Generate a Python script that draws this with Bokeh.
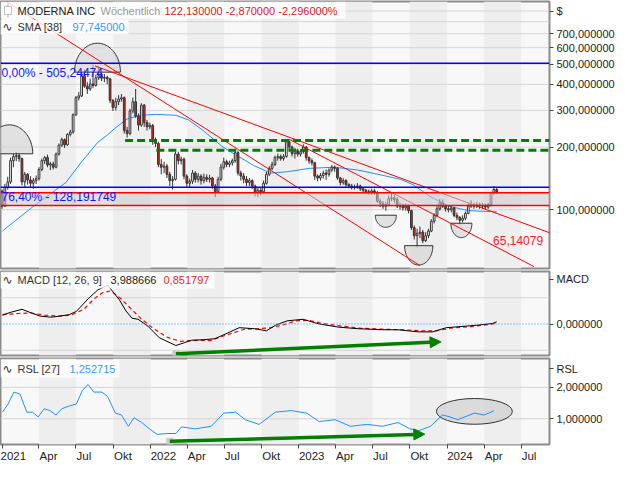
import math
import pandas as pd
from bokeh.plotting import figure
from bokeh.layouts import column
from bokeh.models import (Range1d, FixedTicker, CustomJSTickFormatter, Span, BoxAnnotation,
                          Label, Arrow, NormalHead, ColumnDataSource)
from bokeh.embed import file_html
from bokeh.resources import INLINE

FONT = "Liberation Sans"

# ---------------- weekly candles ----------------
first_week = "2020-12-28"
first_open = 123.0
close = [104, 128, 136, 172, 180, 182, 176, 136, 148, 139, 134, 138, 141, 156, 172, 178, 164, 166, 160, 185,
         204, 217, 205, 230, 236, 286, 345, 352, 440, 392, 380, 402, 395, 430, 440, 428, 432, 425, 335, 310,
         330, 340, 345, 240, 232, 298, 330, 282, 255, 318, 262, 250, 254, 215, 208, 165, 160, 162, 148, 138,
         140, 185, 172, 175, 145, 134, 137, 150, 140, 145, 138, 143, 140, 142, 130, 122, 140, 160, 170, 165,
         168, 172, 188, 150, 145, 140, 135, 138, 130, 121, 124, 122, 134, 148, 158, 165, 178, 180, 176, 180,
         212, 200, 186, 192, 185, 190, 200, 178, 172, 168, 145, 142, 146, 150, 148, 155, 160, 158, 142, 135,
         138, 132, 130, 128, 129, 130, 126, 124, 122, 121, 123, 121, 110, 107, 104, 106, 113, 114, 112, 104,
         104, 102, 104, 99, 82, 75, 77, 78, 71, 75, 79, 88, 94, 101, 108, 104, 101, 100, 102, 94,
         92, 89, 91, 96, 104, 106, 104, 106, 105, 104, 103, 106, 120, 125, 122.13]
high = [125, 133, 144, 178, 186, 189, 187, 178, 152, 150, 145, 142, 146, 160, 176, 181, 184, 170, 170, 188,
        208, 222, 220, 233, 242, 290, 352, 368, 460, 470, 410, 425, 497, 445, 488, 455, 448, 440, 430, 340,
        345, 355, 360, 350, 250, 305, 345, 380, 290, 325, 322, 270, 262, 258, 222, 212, 175, 170, 166, 152,
        145, 190, 190, 180, 178, 148, 141, 155, 153, 150, 148, 149, 148, 147, 144, 133, 144, 166, 178, 174,
        172, 176, 196, 192, 154, 150, 145, 142, 140, 132, 128, 128, 138, 152, 162, 170, 182, 186, 184, 185,
        218, 215, 203, 197, 196, 195, 206, 202, 180, 176, 170, 148, 150, 154, 156, 158, 164, 163, 160, 144,
        142, 140, 134, 133, 132, 134, 132, 128, 126, 125, 126, 126, 123, 113, 110, 109, 117, 120, 118, 115,
        108, 107, 107, 106, 100, 84, 81, 83, 80, 78, 81, 90, 96, 104, 113, 112, 106, 104, 105, 103,
        97, 93, 94, 98, 107, 111, 108, 109, 108, 108, 107, 108, 122, 130, 127]
low = [101, 103, 125, 133, 160, 171, 170, 131, 128, 132, 127, 126, 133, 138, 153, 166, 160, 155, 156, 158,
       182, 200, 198, 203, 225, 232, 282, 335, 348, 385, 360, 372, 385, 390, 420, 415, 410, 400, 325, 298,
       300, 318, 330, 232, 222, 228, 290, 276, 240, 250, 250, 240, 243, 205, 200, 160, 148, 150, 142, 130,
       125, 138, 165, 165, 140, 128, 128, 133, 135, 135, 132, 134, 136, 135, 126, 115, 120, 137, 156, 160,
       160, 163, 168, 146, 138, 134, 130, 130, 126, 116, 115, 117, 120, 132, 145, 155, 162, 172, 172, 172,
       178, 195, 180, 176, 180, 180, 186, 172, 166, 163, 139, 137, 138, 141, 139, 144, 152, 152, 139, 131,
       132, 129, 127, 125, 125, 126, 123, 120, 119, 118, 118, 118, 108, 103, 101, 99, 104, 110, 108, 102,
       100, 99, 99, 96, 80, 72, 66, 73, 69, 70, 73, 78, 86, 92, 99, 102, 98, 97, 97, 92,
       89, 85, 87, 89, 95, 102, 101, 102, 101, 101, 100, 101, 104, 118, 119]

# ---------------- indicator lines ----------------
sma_dates = ["2021-01-01", "2021-03-16", "2021-06-06", "2021-07-14", "2021-08-24", "2021-09-17",
             "2021-10-04", "2021-11-04", "2021-12-05", "2022-01-15", "2022-03-04", "2022-04-04",
             "2022-05-08", "2022-06-25", "2022-07-26", "2022-09-12", "2022-10-23", "2022-12-01",
             "2023-01-27", "2023-03-30", "2023-05-27", "2023-07-21", "2023-09-08", "2023-10-09",
             "2023-11-19", "2024-01-05", "2024-02-22", "2024-05-02"]
sma_vals = [79, 103, 135, 169, 211, 229, 245, 273, 284, 287, 284, 270, 242, 202, 185, 163, 150, 152,
            158, 160, 155, 147, 140, 132, 116, 104, 99, 97.7]

macd_dates = ["2021-01-01", "2021-01-20", "2021-02-18", "2021-03-10", "2021-04-04", "2021-05-01",
              "2021-05-22", "2021-06-15", "2021-07-02", "2021-07-31", "2021-08-24", "2021-09-17",
              "2021-10-16", "2021-11-01", "2021-11-16", "2021-12-01", "2021-12-25", "2022-01-22",
              "2022-03-04", "2022-04-12", "2022-05-10", "2022-06-08", "2022-07-10", "2022-08-07",
              "2022-09-14", "2022-10-13", "2022-11-05", "2022-12-03", "2023-01-11", "2023-02-20",
              "2023-04-09", "2023-05-27", "2023-07-26", "2023-09-02", "2023-10-23", "2023-11-26",
              "2023-12-30", "2024-02-18", "2024-03-18", "2024-04-21", "2024-05-02"]
macd_vals = [17, 22, 28, 22, 15, 13, 15, 18, 24, 48, 65, 74, 46, 25, 11, 9, -4, -26, -41, -31, -30, -28,
             -17, -7, -9, -13, -2, 6, 9, 0, -6, -9, -11, -11, -15, -15, -7, -4, -2, 1, 4]
signal_dates = ["2021-01-01", "2021-02-10", "2021-03-10", "2021-04-15", "2021-05-20", "2021-06-20",
                "2021-07-20", "2021-08-15", "2021-09-05", "2021-09-25", "2021-10-20", "2021-11-15",
                "2021-12-10", "2022-01-05", "2022-02-10", "2022-03-15", "2022-04-20", "2022-05-30",
                "2022-07-10", "2022-08-20", "2022-09-20", "2022-10-25", "2022-11-25", "2022-12-25",
                "2023-01-25", "2023-02-28", "2023-04-15", "2023-06-01", "2023-08-01", "2023-09-15",
                "2023-10-30", "2023-12-05", "2024-01-10", "2024-02-25", "2024-04-01", "2024-05-02"]
signal_vals = [18, 20, 21, 17, 15, 17, 28, 48, 60, 63, 48, 28, 9, -7, -25, -33, -31, -31, -20, -10, -9,
               -7, -1, 6, 7, 1, -4, -8, -10, -11, -13, -13, -8, -5, -2, 0.85]

rsl_dates = ["2021-01-01", "2021-01-15", "2021-01-29", "2021-02-13", "2021-03-02", "2021-03-16",
             "2021-03-30", "2021-04-14", "2021-04-28", "2021-05-13", "2021-05-27", "2021-06-15",
             "2021-07-02", "2021-07-17", "2021-07-31", "2021-08-14", "2021-09-03", "2021-09-17",
             "2021-10-06", "2021-10-21", "2021-11-07", "2021-11-21", "2021-12-10", "2021-12-29",
             "2022-01-17", "2022-02-10", "2022-03-04", "2022-03-18", "2022-04-21", "2022-05-30",
             "2022-06-30", "2022-07-29", "2022-08-22", "2022-09-25", "2022-11-04", "2022-12-13",
             "2023-01-20", "2023-02-20", "2023-03-31", "2023-05-08", "2023-06-18", "2023-07-26",
             "2023-09-02", "2023-10-01", "2023-10-23", "2023-11-21", "2023-12-20", "2024-01-08",
             "2024-01-27", "2024-03-08", "2024-04-01", "2024-04-25"]
rsl_vals = [1.21, 1.47, 1.85, 1.79, 1.21, 1.21, 1.06, 1.32, 1.26, 1.12, 1.32, 1.41, 1.47, 1.91, 2.09,
            1.85, 1.85, 1.71, 1.18, 1.12, 0.76, 1.03, 0.88, 0.68, 0.5, 0.53, 0.53, 0.74, 0.68, 0.76,
            1.18, 1.21, 0.97, 0.82, 1.21, 1.26, 1.18, 0.91, 0.97, 0.76, 0.82, 0.76, 0.88, 0.68, 0.62,
            0.76, 1.12, 1.06, 0.97, 1.18, 1.12, 1.25]

# ---------------- axes / annotations ----------------
quarter_ticks = ["2021-01-01", "2021-04-01", "2021-07-01", "2021-10-01", "2022-01-01", "2022-04-01",
                 "2022-07-01", "2022-10-01", "2023-01-01", "2023-04-01", "2023-07-01", "2023-10-01",
                 "2024-01-01", "2024-04-01", "2024-07-01"]
quarter_labels = ["2021", "Apr", "Jul", "Okt", "2022", "Apr", "Jul", "Okt", "2023", "Apr", "Jul", "Okt",
                  "2024", "Apr", "Jul"]
shade_starts = ["2021-04-01", "2021-10-01", "2022-04-01", "2022-10-01", "2023-04-01", "2023-10-01", "2024-04-01"]
shade_ends = ["2021-07-01", "2022-01-01", "2022-07-01", "2023-01-01", "2023-07-01", "2024-01-01", "2024-07-01"]
price_ticks = [100, 200, 300, 400, 500, 600, 700]
price_grid = [100, 200, 300, 400, 500, 600, 700, 800, 900]
unit_tick = {900: "$"}
macd_ticks = {0: "0,000000", 85: "MACD"}
rsl_ticks = {1: "1,000000", 2: "2,000000", 2.6: "RSL"}

fib_levels = [505.24474, 128.191749]
fib_texts = ["0,00% - 505,24474", "76,40% - 128,191749"]
zone_levels = [104.7, 120.8]
resist_levels = [214.8, 193.0]
resist_starts = ["2021-10-30", "2022-01-15"]
trend_start_d = ["2021-01-11", "2021-08-17", "2022-12-08"]
trend_start_p = [1000, 490, 217.8]
trend_end_d = ["2023-10-26", "2024-09-10", "2024-08-02"]
trend_end_p = [53.9, 77.4, 53.3]
dome_center = ["2021-01-18", "2021-08-23", "2023-08-03", "2023-10-23", "2024-02-05"]
dome_price = [185.6, 457.8, 94.1, 67.2, 86.1]
dome_rx_days = [57.7, 56.5, 26.0, 34.8, 26.0]
dome_ry_dec = [0.139, 0.139, 0.058, 0.093, 0.069]
dome_up = [True, True, False, False, False]


def ms(d):
    return pd.Timestamp(d).value / 1e6


DAY = 86400000.0
FW = 549
x_range = Range1d(ms("2020-12-27 05:00"), ms("2024-09-09"))
BG = "#f8f8f8"
SHADE = "#eeeeee"
GRID = "#d4d4d4"
fmt6 = CustomJSTickFormatter(code="return tick.toFixed(6).replace('.', ',');")


def base_fig(fh, yr, ylog=False, bottom=2, xaxis=False):
    p = figure(frame_width=FW, frame_height=fh, x_range=x_range, y_range=yr,
               x_axis_type="datetime", y_axis_type="log" if ylog else "linear",
               y_axis_location="right", x_axis_location="below" if xaxis else None,
               toolbar_location=None, output_backend="svg",
               min_border_left=0, min_border_right=75, min_border_top=1, min_border_bottom=bottom,
               background_fill_color=BG, border_fill_color="white",
               outline_line_color="#8c8c8c", outline_line_width=2)
    p.xgrid.visible = False
    p.ygrid.visible = False
    for s, e in zip(shade_starts, shade_ends):
        p.add_layout(BoxAnnotation(left=ms(s), right=ms(e), fill_color=SHADE, fill_alpha=1.0,
                                   line_alpha=0, level="underlay"))
    ax = p.yaxis[0]
    ax.formatter = fmt6
    ax.axis_line_color = None
    ax.major_tick_out = 4
    ax.major_tick_in = 0
    ax.major_tick_line_color = "#444444"
    ax.minor_tick_line_color = None
    ax.major_label_text_font = FONT
    ax.major_label_text_font_size = "11px"
    ax.major_label_text_color = "#222222"
    ax.major_label_standoff = 3
    return p


def header(p, fh, box_right, box_top, box_bottom, parts, yc):
    p.add_layout(BoxAnnotation(left=0, right=box_right, top=fh - box_top, bottom=fh - box_bottom,
                               left_units="screen", right_units="screen", top_units="screen",
                               bottom_units="screen", fill_color="white", fill_alpha=0.8, line_alpha=0))
    for x, txt, col, fnt, size in parts:
        p.add_layout(Label(x=x, y=fh - yc, x_units="screen", y_units="screen", text=txt, text_color=col,
                           text_font=fnt, text_font_size=size, text_baseline="middle"))


# ================= main price panel =================
MH = 267
p1 = base_fig(MH, Range1d(52.2, 1000), ylog=True)
p1.yaxis[0].ticker = FixedTicker(ticks=price_ticks + list(unit_tick))
p1.yaxis[0].major_label_overrides = unit_tick
for g in price_grid:
    p1.add_layout(Span(location=g, dimension="width", line_color=GRID, line_width=1, level="underlay"))

p1.add_layout(BoxAnnotation(bottom=zone_levels[0], top=zone_levels[1], fill_color="#cccccc",
                            fill_alpha=0.55, line_alpha=0))
for lv in zone_levels:
    p1.add_layout(Span(location=lv, dimension="width", line_color="#ff0000", line_width=1.5))
for lv in fib_levels:
    p1.add_layout(Span(location=lv, dimension="width", line_color="#0000ff", line_width=1.5))

p1.line([pd.Timestamp(d) for d in sma_dates], sma_vals, line_color="#1e90ff", line_width=1)

weeks = pd.date_range(first_week, periods=len(close), freq="7D") + pd.Timedelta(days=3)
opens = [first_open] + close[:-1]
src = ColumnDataSource(dict(
    x=weeks, o=opens, c=close, h=high, l=low,
    top=[max(a, b) for a, b in zip(opens, close)],
    bot=[min(a, b) for a, b in zip(opens, close)],
    col=["#ffffff" if c >= o else "#d42a20" for o, c in zip(opens, close)]))
p1.segment(x0="x", y0="h", x1="x", y1="l", source=src, line_color="#333333", line_width=1)
p1.vbar(x="x", top="top", bottom="bot", width=4.3 * DAY, source=src, fill_color="col",
        line_color="#333333", line_width=1)

# domes / cups
dxs, dys = [], []
for c, pr, rx, ry, up in zip(dome_center, dome_price, dome_rx_days, dome_ry_dec, dome_up):
    ts = [math.pi * k / 48 for k in range(49)]
    sg = 1 if up else -1
    dxs.append([ms(c) + rx * DAY * math.cos(t) for t in ts])
    dys.append([10 ** (math.log10(pr) + sg * ry * math.sin(t)) for t in ts])
p1.patches(dxs, dys, fill_color="#d2d2d2", fill_alpha=0.6, line_color="#333333", line_width=1)

# trend lines
p1.segment(x0=[ms(d) for d in trend_start_d], y0=trend_start_p, x1=[ms(d) for d in trend_end_d],
           y1=trend_end_p, line_color="#ff0000", line_width=1)
# green resistance lines
p1.segment(x0=[ms(d) for d in resist_starts], y0=resist_levels, x1=[x_range.end] * 2, y1=resist_levels,
           line_color="#008000", line_width=3, line_dash="8 4")

for lv, txt in zip(fib_levels, fib_texts):
    p1.add_layout(Label(x=x_range.start, y=lv, x_offset=1, y_offset=-3, text=txt, text_color="#1414ff",
                        text_font=FONT, text_font_size="12px", text_baseline="top"))
p1.add_layout(Label(x=ms("2024-04-23"), y=71.1, text="65,14079", text_color="#ff2020", text_font=FONT,
                    text_font_size="12px", text_baseline="middle"))

header(p1, MH, 345, 0, 17, [
    (17, "MODERNA INC", "#1a1a1a", FONT, "11px"),
    (100, "Wöchentlich", "#9a9a9a", FONT, "11px"),
    (164, "122,130000  -2,870000  -2,296000%", "#e8161b", FONT, "11px")], 9)
# candle icon
p1.add_layout(BoxAnnotation(left=7, right=8, top=MH - 2, bottom=MH - 16, left_units="screen",
                            right_units="screen", top_units="screen", bottom_units="screen",
                            fill_color="#333333", line_alpha=0))
p1.add_layout(BoxAnnotation(left=4, right=11, top=MH - 5, bottom=MH - 13, left_units="screen",
                            right_units="screen", top_units="screen", bottom_units="screen",
                            fill_color="white", fill_alpha=1, line_color="#333333", line_width=1))
header(p1, MH, 128, 18, 33, [
    (2, "∿", "#333333", "DejaVu Sans", "12px"),
    (17, "SMA  [38]", "#333333", FONT, "11px"),
    (72, "97,745000", "#3399ff", FONT, "11px")], 25)

# ================= MACD panel =================
DH = 84
p2 = base_fig(DH, Range1d(-60, 100))
p2.yaxis[0].ticker = FixedTicker(ticks=list(macd_ticks))
p2.yaxis[0].major_label_overrides = macd_ticks
for g in [50, -50]:
    p2.add_layout(Span(location=g, dimension="width", line_color=GRID, line_width=1, level="underlay"))
p2.add_layout(Span(location=0, dimension="width", line_color="#1e90ff", line_width=1, line_dash="1 2"))
p2.line([pd.Timestamp(d) for d in signal_dates], signal_vals, line_color="#ff0000", line_width=1.2,
        line_dash="4 3")
p2.line([pd.Timestamp(d) for d in macd_dates], macd_vals, line_color="#000000", line_width=1)
p2.scatter([ms("2022-03-04")], [-56.6], marker="square", size=6, color="#cccccc")
p2.add_layout(Arrow(end=NormalHead(size=11, fill_color="#008000", line_color="#008000"),
                    x_start=ms("2022-03-04"), y_start=-56.6, x_end=ms("2023-12-17"), y_end=-34,
                    line_color="#008000", line_width=3.5))
header(p2, DH, 214, 0, 17, [
    (2, "∿", "#333333", "DejaVu Sans", "12px"),
    (17, "MACD  [12, 26, 9]", "#333333", FONT, "11px"),
    (110, "3,988666", "#1a1a1a", FONT, "11px"),
    (163, "0,851797", "#ff2020", FONT, "11px")], 8.5)

# ================= RSL panel =================
RH = 86
p3 = base_fig(RH, Range1d(0.18, 2.92), bottom=18, xaxis=True)
p3.yaxis[0].ticker = FixedTicker(ticks=list(rsl_ticks))
p3.yaxis[0].major_label_overrides = rsl_ticks
for g in [1, 2]:
    p3.add_layout(Span(location=g, dimension="width", line_color=GRID, line_width=1, level="underlay"))
p3.ellipse(x=[ms("2024-03-08")], y=[1.235], width=[187 * DAY], height=[0.82], fill_color="#cfcfcf",
           fill_alpha=0.7, line_color="#333333", line_width=1)
p3.line([pd.Timestamp(d) for d in rsl_dates], rsl_vals, line_color="#1e90ff", line_width=1)
p3.scatter([ms("2022-02-17")], [0.282], marker="square", size=6, color="#cccccc")
p3.add_layout(Arrow(end=NormalHead(size=11, fill_color="#008000", line_color="#008000"),
                    x_start=ms("2022-02-17"), y_start=0.282, x_end=ms("2023-11-07"), y_end=0.51,
                    line_color="#008000", line_width=3.5))
header(p3, RH, 119, 1, 19, [
    (2, "∿", "#333333", "DejaVu Sans", "12px"),
    (17, "RSL  [27]", "#333333", FONT, "11px"),
    (69, "1,252715", "#3399ff", FONT, "11px")], 10.5)

# x axis: labels start at their tick (padding with no-break spaces, centred by Bokeh);
# the first one sits at the left edge, where Bokeh keeps it inside the canvas
pad = {"2021": 0, "2022": 8, "2023": 8, "2024": 8, "Apr": 6, "Jul": 5, "Okt": 6}
xa = p3.xaxis[0]
xa.ticker = FixedTicker(ticks=[ms(d) for d in quarter_ticks])
xa.major_label_overrides = {ms(d): ("\u00a0" * pad[lab] + lab) if i else lab
                            for i, (d, lab) in enumerate(zip(quarter_ticks, quarter_labels))}
xa.axis_line_color = None
xa.major_tick_out = 4
xa.major_tick_in = 0
xa.major_tick_line_color = "#444444"
xa.minor_tick_line_color = None
xa.major_label_standoff = 1
xa.major_label_text_font = FONT
xa.major_label_text_font_size = "11.5px"
xa.major_label_text_color = "#222222"

layout = column(p1, p2, p3, spacing=0)
open("out.html", "w").write(file_html(layout, INLINE))
